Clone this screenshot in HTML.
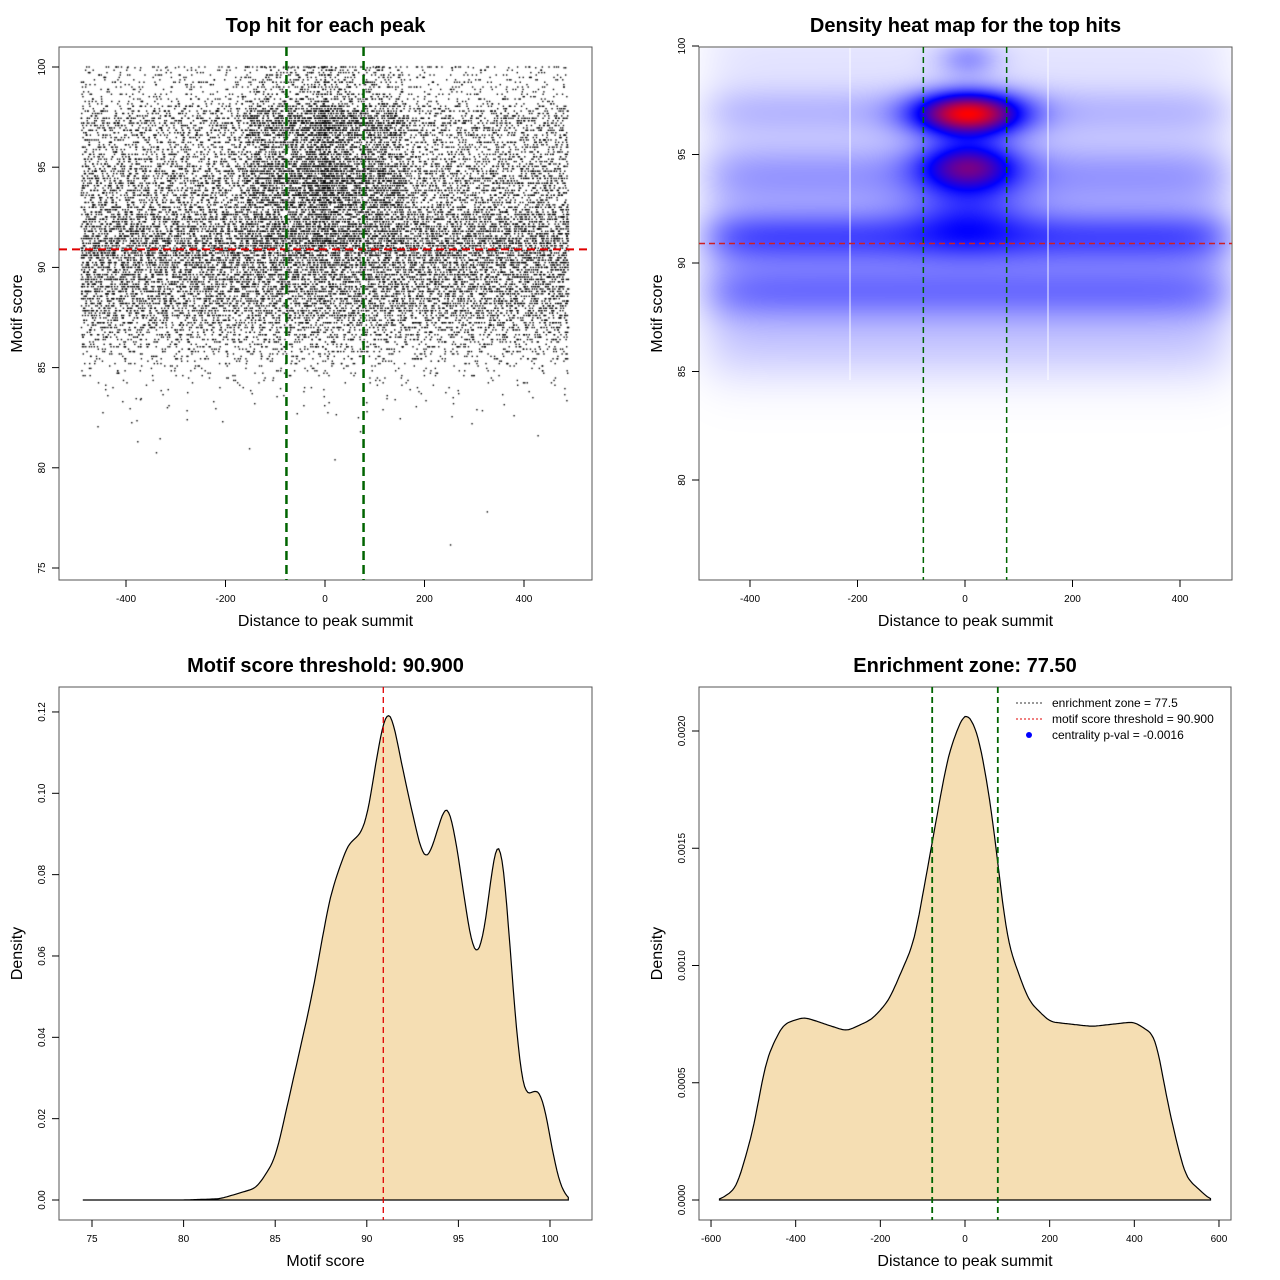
<!DOCTYPE html>
<html><head><meta charset="utf-8"><style>
body{margin:0;background:#fff;}
#wrap{position:relative;width:1280px;height:1280px;font-family:"Liberation Sans",sans-serif;}
canvas,svg{position:absolute;left:0;top:0;}
</style></head><body>
<div id="wrap">
<canvas id="heat" width="1280" height="1280"></canvas>
<canvas id="scat" width="1280" height="1280"></canvas>
<svg id="svg" width="1280" height="1280" xmlns="http://www.w3.org/2000/svg"></svg>
</div>
<script>
// ---- data ----
const scoreX = [74.5,80,82,84,85,86,87,88,89,89.5,90,90.5,91,91.3,92,92.5,93,93.3,94,94.4,95,95.5,96,96.5,97,97.2,97.5,98,98.5,99,99.3,99.7,100,100.5,101];
const scoreD = [0,0,0.0003,0.003,0.01,0.03,0.05,0.075,0.088,0.089,0.093,0.108,0.12,0.121,0.105,0.095,0.085,0.083,0.093,0.099,0.085,0.068,0.058,0.068,0.088,0.09,0.083,0.05,0.026,0.026,0.028,0.024,0.015,0.004,0];
const distX = [-580,-540,-500,-470,-430,-380,-330,-280,-220,-180,-120,-80,-40,0,30,60,100,150,200,300,400,450,480,520,580];
const distD = [0,0.00005,0.0003,0.0006,0.00075,0.00078,0.00075,0.00072,0.00077,0.00085,0.0011,0.0015,0.0019,0.00209,0.002,0.0017,0.0011,0.00085,0.00076,0.00074,0.00076,0.0007,0.0004,0.0001,0];
const bandScore = [99.5,97,94,91.2,88.8,86.5];
const bandSd = [1.2,0.9,1.2,0.9,1.0,1.4];
const bandW = [0.06,0.15,0.24,0.4,0.3,0.12];
const blobX = [5,5,5,5];
const blobY = [96.9,94.5,92.3,99.4];
const blobSx = [70,65,75,40];
const blobSy = [0.7,0.8,1.1,0.6];
const blobW = [1.0,0.6,0.22,0.18];
const threshold = 90.9, zone = 77.5;
const p1xTicks=[-400,-200,0,200,400], p1yTicks=[75,80,85,90,95,100];
const p2yTicks=[80,85,90,95,100];
const p3xTicks=[75,80,85,90,95,100], p3yTicks=[0,0.02,0.04,0.06,0.08,0.10,0.12];
const p3yLab=["0.00","0.02","0.04","0.06","0.08","0.10","0.12"];
const p4xTicks=[-600,-400,-200,0,200,400,600], p4yTicks=[0,0.0005,0.001,0.0015,0.002];
const p4yLab=["0.0000","0.0005","0.0010","0.0015","0.0020"];

// ---- scales ----
const x1=v=>325+v*0.4975, y1=v=>67+(100-v)*20.04;
const x2=v=>965+v*0.5375, y2=v=>46+(100-v)*21.7;
const x3=v=>92+(v-75)*18.32, y3=v=>1200-v*4067;
const x4=v=>965+v*0.4233, y4=v=>1200-v*234500;

const NS="http://www.w3.org/2000/svg", svg=document.getElementById('svg');
function mk(tag,attrs,parent,name,txt){const e=document.createElementNS(NS,tag);for(const k in attrs)e.setAttribute(k,attrs[k]);


if(txt!==undefined)e.textContent=txt;(parent||svg).appendChild(e);return e;}
function text(x,y,s,size,opt,name){opt=opt||{};const a={x:x,y:y,'font-size':size,'text-anchor':opt.anchor||'middle','font-family':'Liberation Sans, sans-serif',fill:'#000'};
if(opt.bold)a['font-weight']='bold';if(opt.rot)a.transform='rotate(-90 '+x+' '+y+')';return mk('text',a,svg,name,s);}
function line(xa,ya,xb,yb,col,w,dash,name){const a={x1:xa,y1:ya,x2:xb,y2:yb,stroke:col,'stroke-width':w};if(dash)a['stroke-dasharray']=dash;return mk('line',a,svg,name);}

function frame(L,T,R,B,title,xl,yl,pname){
  mk('rect',{x:L,y:T,width:R-L,height:B-T,fill:'none',stroke:'#555','stroke-width':1},svg,pname+'-frame');
  text((L+R)/2,32+T-47,title,20,{bold:true},pname+'-title');
  text((L+R)/2,B+46,xl,16,{},pname+'-x-axis-title');
  text(L-37,(T+B)/2,yl,16,{rot:true},pname+'-y-axis-title');
}
function xt(ticks,f,B,labs,pname){ticks.forEach((v,i)=>{const x=f(v);line(x,B,x,B+7,'#000',1,null,pname+'-x-tick');text(x,B+22,labs?labs[i]:String(v),10,{},pname+'-x-tick-label');});}
function yt(ticks,f,L,labs,pname){ticks.forEach((v,i)=>{const y=f(v);line(L-7,y,L,y,'#000',1,null,pname+'-y-tick');text(L-14,y,labs?labs[i]:String(v),10,{rot:true},pname+'-y-tick-label');});}

function interp(xs,ys,v){if(v<=xs[0])return ys[0];for(let i=1;i<xs.length;i++){if(v<=xs[i]){const t=(v-xs[i-1])/(xs[i]-xs[i-1]);return ys[i-1]+t*(ys[i]-ys[i-1]);}}return ys[ys.length-1];}
function smoothPts(xs,ys,fx,fy,n){const pts=[];const a=xs[0],b=xs[xs.length-1];for(let i=0;i<=n;i++){const v=a+(b-a)*i/n;
let s=0,c=0;for(let k=-3;k<=3;k++){const w=4-Math.abs(k);s+=w*interp(xs,ys,v+k*(b-a)/n*1.5);c+=w;}pts.push([fx(v),fy(s/c)]);}return pts;}

// ---- Panel 1: scatter ----
function halton(i,b){let f=1,r=0;while(i>0){f/=b;r+=f*(i%b);i=Math.floor(i/b);}return r;}
(function(){
  const cdfX=[],cdf=[];let acc=0;for(let v=74.5;v<=101;v+=0.05){acc+=interp(scoreX,scoreD,v)+0.00002;cdfX.push(v);cdf.push(acc);}
  const ctx=document.getElementById('scat').getContext('2d');ctx.fillStyle='#000';
  const N=22000;
  for(let i=1;i<=N;i++){
    const u=halton(i,2)*acc;let lo=0,hi=cdf.length-1;while(lo<hi){const m=(lo+hi)>>1;if(cdf[m]<u)lo=m+1;else hi=m;}
    let s=cdfX[lo];
    if(s>84){s=Math.round(s/0.12)*0.12;}
    if(s>100)s=100;
    const u2=(halton(i,3)+halton(i,7)*0.37)%1,u3=halton(i,5);
    const pc=s>96.5?0.35:s>93?0.3:s>91?0.12:0.03;
    let d;
    if(u3<pc){const g=(u2-0.5)*2;d=Math.sign(g)*Math.pow(Math.abs(g),1.4)*160;}
    else d=-490+u2*980;
    ctx.fillRect(x1(d)-0.7,y1(s)-0.7,1.4,1.4);
  }
})();
frame(59,47,592,580,'Top hit for each peak','Distance to peak summit','Motif score','scatter');
xt(p1xTicks,x1,580,null,'scatter');yt(p1yTicks,y1,59,null,'scatter');
line(59,y1(threshold),592,y1(threshold),'#e00000',2,'8,5','scatter-threshold-line');
line(x1(-zone),47,x1(-zone),580,'#006400',2.5,'9,5','scatter-zone-left');
line(x1(zone),47,x1(zone),580,'#006400',2.5,'9,5','scatter-zone-right');

// ---- Panel 2: heatmap ----
(function(){
  const ctx=document.getElementById('heat').getContext('2d');
  const L=700,T=48,W=531,H=531;const img=ctx.createImageData(W,H);
  const vals=new Float32Array(W*H);let mx=0;
  for(let py=0;py<H;py++){const s=100-(T+py-46)/21.7;
    let band=0;for(let k=0;k<bandScore.length;k++)band+=bandW[k]*Math.exp(-0.5*Math.pow((s-bandScore[k])/bandSd[k],2));
    for(let px=0;px<W;px++){const d=(L+px-965)/0.5375;
      const edge=1/(1+Math.exp((Math.abs(d-5)-480)/25));
      let v=band*edge;
      for(let k=0;k<blobX.length;k++)v+=blobW[k]*Math.exp(-0.5*(Math.pow((d-blobX[k])/blobSx[k],2)+Math.pow((s-blobY[k])/blobSy[k],2)));
      vals[py*W+px]=v;if(v>mx)mx=v;}}
  for(let i=0;i<W*H;i++){let t=vals[i]/mx;let r,g,b;
    const tb=0.5;
    if(t<tb){const q=t/tb;r=255*(1-q);g=255*(1-q);b=255;}
    else{const q=(t-tb)/(1-tb);r=255*q;g=0;b=255*(1-q);}
    img.data[i*4]=r;img.data[i*4+1]=g;img.data[i*4+2]=b;img.data[i*4+3]=255;}
  ctx.putImageData(img,L,T);
})();
line(850,48,850,380,'rgba(255,255,255,0.9)',1,null,'heatmap-white-line-left');
line(1048,48,1048,380,'rgba(255,255,255,0.9)',1,null,'heatmap-white-line-right');
frame(699,47,1232,580,'Density heat map for the top hits','Distance to peak summit','Motif score','heatmap');
xt(p1xTicks,x2,580,null,'heatmap');yt(p2yTicks,y2,699,null,'heatmap');
line(699,y2(threshold),1232,y2(threshold),'#d02020',1.5,'6,4','heatmap-threshold-line');
line(x2(-zone),47,x2(-zone),580,'#006400',1.5,'6,4','heatmap-zone-left');
line(x2(zone),47,x2(zone),580,'#006400',1.5,'6,4','heatmap-zone-right');

// ---- Panel 3: score density ----
(function(){const pts=smoothPts(scoreX,scoreD,x3,y3,300);
  let d='M'+pts[0][0]+','+y3(0);pts.forEach(p=>d+='L'+p[0].toFixed(1)+','+p[1].toFixed(1));d+='L'+pts[pts.length-1][0]+','+y3(0)+'Z';
  mk('path',{d:d,fill:'#f5deb3',stroke:'#000','stroke-width':1.2},svg,'score-density-curve');})();
frame(59,687,592,1220,'Motif score threshold: 90.900','Motif score','Density','score-density');
xt(p3xTicks,x3,1220,null,'score-density');yt(p3yTicks,y3,59,p3yLab,'score-density');
line(x3(threshold),687,x3(threshold),1220,'#e00000',1.3,'6,4','score-threshold-line');

// ---- Panel 4: distance density ----
(function(){const pts=smoothPts(distX,distD,x4,y4,300);
  let d='M'+pts[0][0]+','+y4(0);pts.forEach(p=>d+='L'+p[0].toFixed(1)+','+p[1].toFixed(1));d+='L'+pts[pts.length-1][0]+','+y4(0)+'Z';
  mk('path',{d:d,fill:'#f5deb3',stroke:'#000','stroke-width':1.2},svg,'distance-density-curve');})();
frame(699,687,1231,1220,'Enrichment zone: 77.50','Distance to peak summit','Density','distance-density');
xt(p4xTicks,x4,1220,null,'distance-density');yt(p4yTicks,y4,699,p4yLab,'distance-density');
line(x4(-zone),687,x4(-zone),1220,'#006400',1.8,'6,4','distance-zone-left');
line(x4(zone),687,x4(zone),1220,'#006400',1.8,'6,4','distance-zone-right');
// legend
line(1016,703,1042,703,'#333',1,'2,2','legend-zone-swatch');
text(1052,707,'enrichment zone = 77.5',12,{anchor:'start'},'legend-zone-label');
line(1016,719,1042,719,'#e00000',1,'2,2','legend-threshold-swatch');
text(1052,723,'motif score threshold = 90.900',12,{anchor:'start'},'legend-threshold-label');
mk('circle',{cx:1029,cy:735,r:3,fill:'#0000ff'},svg,'legend-pval-swatch');
text(1052,739,'centrality p-val = -0.0016',12,{anchor:'start'},'legend-pval-label');
</script>
</body></html>
